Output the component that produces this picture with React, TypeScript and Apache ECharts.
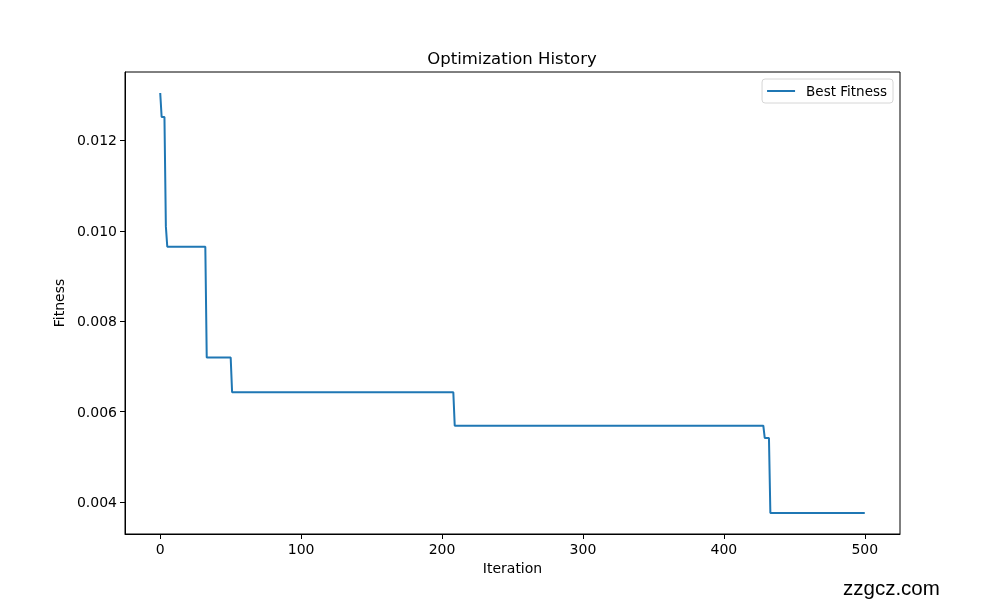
import React, { useEffect, useRef } from 'react';
import * as echarts from 'echarts';

// breakpoints of the best-fitness curve (iteration, fitness)
const iterations = [0, 1, 3, 4, 5, 32, 33, 50, 51, 208, 209, 428, 429, 432, 433, 500];
const fitness = [
  0.01305, 0.01252, 0.01252, 0.0101, 0.00965, 0.00965, 0.0072, 0.0072,
  0.00643, 0.00643, 0.00569, 0.00569, 0.00542, 0.00542, 0.00376, 0.00376,
];
const xTicks = [0, 100, 200, 300, 400, 500];
const yTicks = [0.004, 0.006, 0.008, 0.01, 0.012];

const FONT = 'DejaVu Sans';

const App: React.FC = () => {
  const chartRef = useRef<HTMLDivElement>(null);

  useEffect(() => {
    if (!chartRef.current) return;
    const chart = echarts.init(chartRef.current, undefined, { renderer: 'svg' });

    const axisCommon = {
      axisLine: { show: true, onZero: false, lineStyle: { color: '#000', width: 1 } },
      splitLine: { show: false },
    };

    chart.setOption({
      animation: false,
      title: {
        text: 'Optimization History',
        left: 507,
        top: 45,
        textAlign: 'center',
        textStyle: { fontFamily: FONT, fontSize: 16.5, fontWeight: 'normal', color: '#000' },
      },
      grid: { left: 125, right: 100, top: 72, bottom: 66, show: true, borderColor: '#000', borderWidth: 1 },
      legend: {
        data: ['Best Fitness'],
        right: 107,
        top: 79,
        itemWidth: 28,
        itemHeight: 2,
        itemGap: 10,
        padding: [5, 6, 5, 5],
        borderColor: '#d6d6d6',
        borderWidth: 1,
        borderRadius: 3,
        icon: 'rect',
        textStyle: { fontFamily: FONT, fontSize: 13.5, color: '#000', padding: [0, 0, 0, 6] },
      },
      xAxis: {
        type: 'value',
        min: -25,
        max: 525,
        name: 'Iteration',
        nameLocation: 'middle',
        nameGap: 27,
        nameTextStyle: { fontFamily: FONT, fontSize: 14, color: '#000' },
        ...axisCommon,
        axisTick: { show: true, length: 5, inside: false, customValues: xTicks, lineStyle: { color: '#000' } },
        axisLabel: { customValues: xTicks, fontFamily: FONT, fontSize: 14, color: '#000', margin: 8 },
      },
      yAxis: {
        type: 'value',
        min: 0.003295,
        max: 0.013515,
        name: 'Fitness',
        nameLocation: 'middle',
        nameGap: 53,
        nameTextStyle: { fontFamily: FONT, fontSize: 14, color: '#000' },
        ...axisCommon,
        axisTick: { show: true, length: 5, customValues: yTicks, lineStyle: { color: '#000' } },
        axisLabel: {
          customValues: yTicks,
          fontFamily: FONT,
          fontSize: 14,
          color: '#000',
          margin: 8,
          formatter: (v: number) => v.toFixed(3),
        },
      },
      series: [
        {
          name: 'Best Fitness',
          type: 'line',
          data: iterations.map((it, i) => [it, fitness[i]]),
          showSymbol: false,
          symbol: 'none',
          lineStyle: { color: '#1f77b4', width: 2 },
          itemStyle: { color: '#1f77b4' },
        },
      ],
      graphic: [
        {
          type: 'text',
          left: 843,
          top: 577,
          style: { text: 'zzgcz.com', fontFamily: 'Liberation Sans', fontSize: 20.5, fill: '#000' },
        },
      ],
    });

    return () => {
      chart.dispose();
    };
  }, []);

  return (
    <div style={{ position: 'fixed', left: 0, top: 0, width: 1000, height: 600 }}>
      <div ref={chartRef} style={{ width: 1000, height: 600 }} />
    </div>
  );
};

export default App;
